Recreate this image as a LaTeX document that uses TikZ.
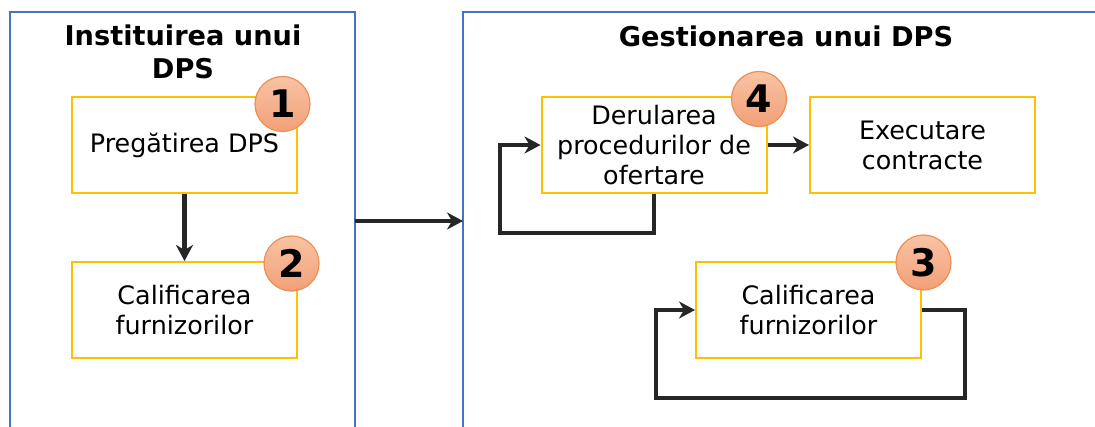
\documentclass[tikz,border=0pt]{standalone}
\usepackage{fontspec}
\setmainfont{DejaVu Sans}
\usetikzlibrary{arrows.meta}
\definecolor{frameblue}{HTML}{4472C4}
\definecolor{boxgold}{HTML}{FFC000}
\definecolor{badgetop}{HTML}{F8C3A3}
\definecolor{badgebot}{HTML}{F2A078}
\definecolor{badgeline}{HTML}{EE8E55}
\definecolor{flowgray}{HTML}{262626}
\tikzset{
  frame/.style={draw=frameblue, line width=1pt},
  phase/.style={font=\fontsize{13.6}{16.5}\selectfont\bfseries, align=center, inner sep=0pt},
  stage/.style={draw=boxgold, line width=1pt, fill=white, minimum width=112.5pt,
    minimum height=48pt, align=center, inner sep=0pt, font=\fontsize{12.7}{15}\selectfont},
  badge/.style={circle, draw=badgeline, line width=0.6pt, top color=badgetop,
    bottom color=badgebot, minimum size=27.5pt, inner sep=0pt,
    font=\fontsize{19}{19}\selectfont\bfseries},
  flow/.style={draw=flowgray, line width=2.3pt, -{Stealth[length=8pt,width=8.5pt,inset=2.5pt]}},
}
\begin{document}
\begin{tikzpicture}[x=0.5pt,y=-0.5pt]
\useasboundingbox (0,0) rectangle (1095,427);
% the two phases
\draw[frame] (10,440) -- (10,12) -- (355,12) -- (355,440);
\draw[frame] (463,440) -- (463,12) -- (1110,12);
\node[phase, anchor=base] (instTitle) at (183,79) {Instituirea unui\\DPS};
\node[phase, anchor=base] (gestTitle) at (786,47) {Gestionarea unui DPS};
\coordinate (instR) at (355,221);
\coordinate (gestL) at (463,221);
\draw[flow] (instR) -- (gestL);
% stages
\node[stage] (prep) at (184.5,145) {Pregătirea DPS};
\node[stage] (calA) at (184.5,310) {Calificarea\\furnizorilor};
\node[stage] (deru) at (654,145) {Derularea\\procedurilor de\\ofertare};
\node[stage] (exec) at (922.5,145) {Executare\\contracte};
\node[stage] (calB) at (808.5,310) {Calificarea\\furnizorilor};
% connectors
\draw[flow] (prep) -- (calA);
\draw[flow] (deru) -- (exec);
\coordinate (loopD) at (500,233);
\draw[flow] (deru.south) |- (loopD) |- (deru.west);
\coordinate (loopC1) at (965,398);
\coordinate (loopC2) at (656,398);
\draw[flow] (calB.east) -| (loopC1) -- (loopC2) |- (calB.west);
% badges
\node[badge] (n1) at (282.5,104) {1};
\node[badge] (n2) at (291.5,263.5) {2};
\node[badge] (n3) at (923.5,262.5) {3};
\node[badge] (n4) at (759,99) {4};
\end{tikzpicture}
\end{document}
